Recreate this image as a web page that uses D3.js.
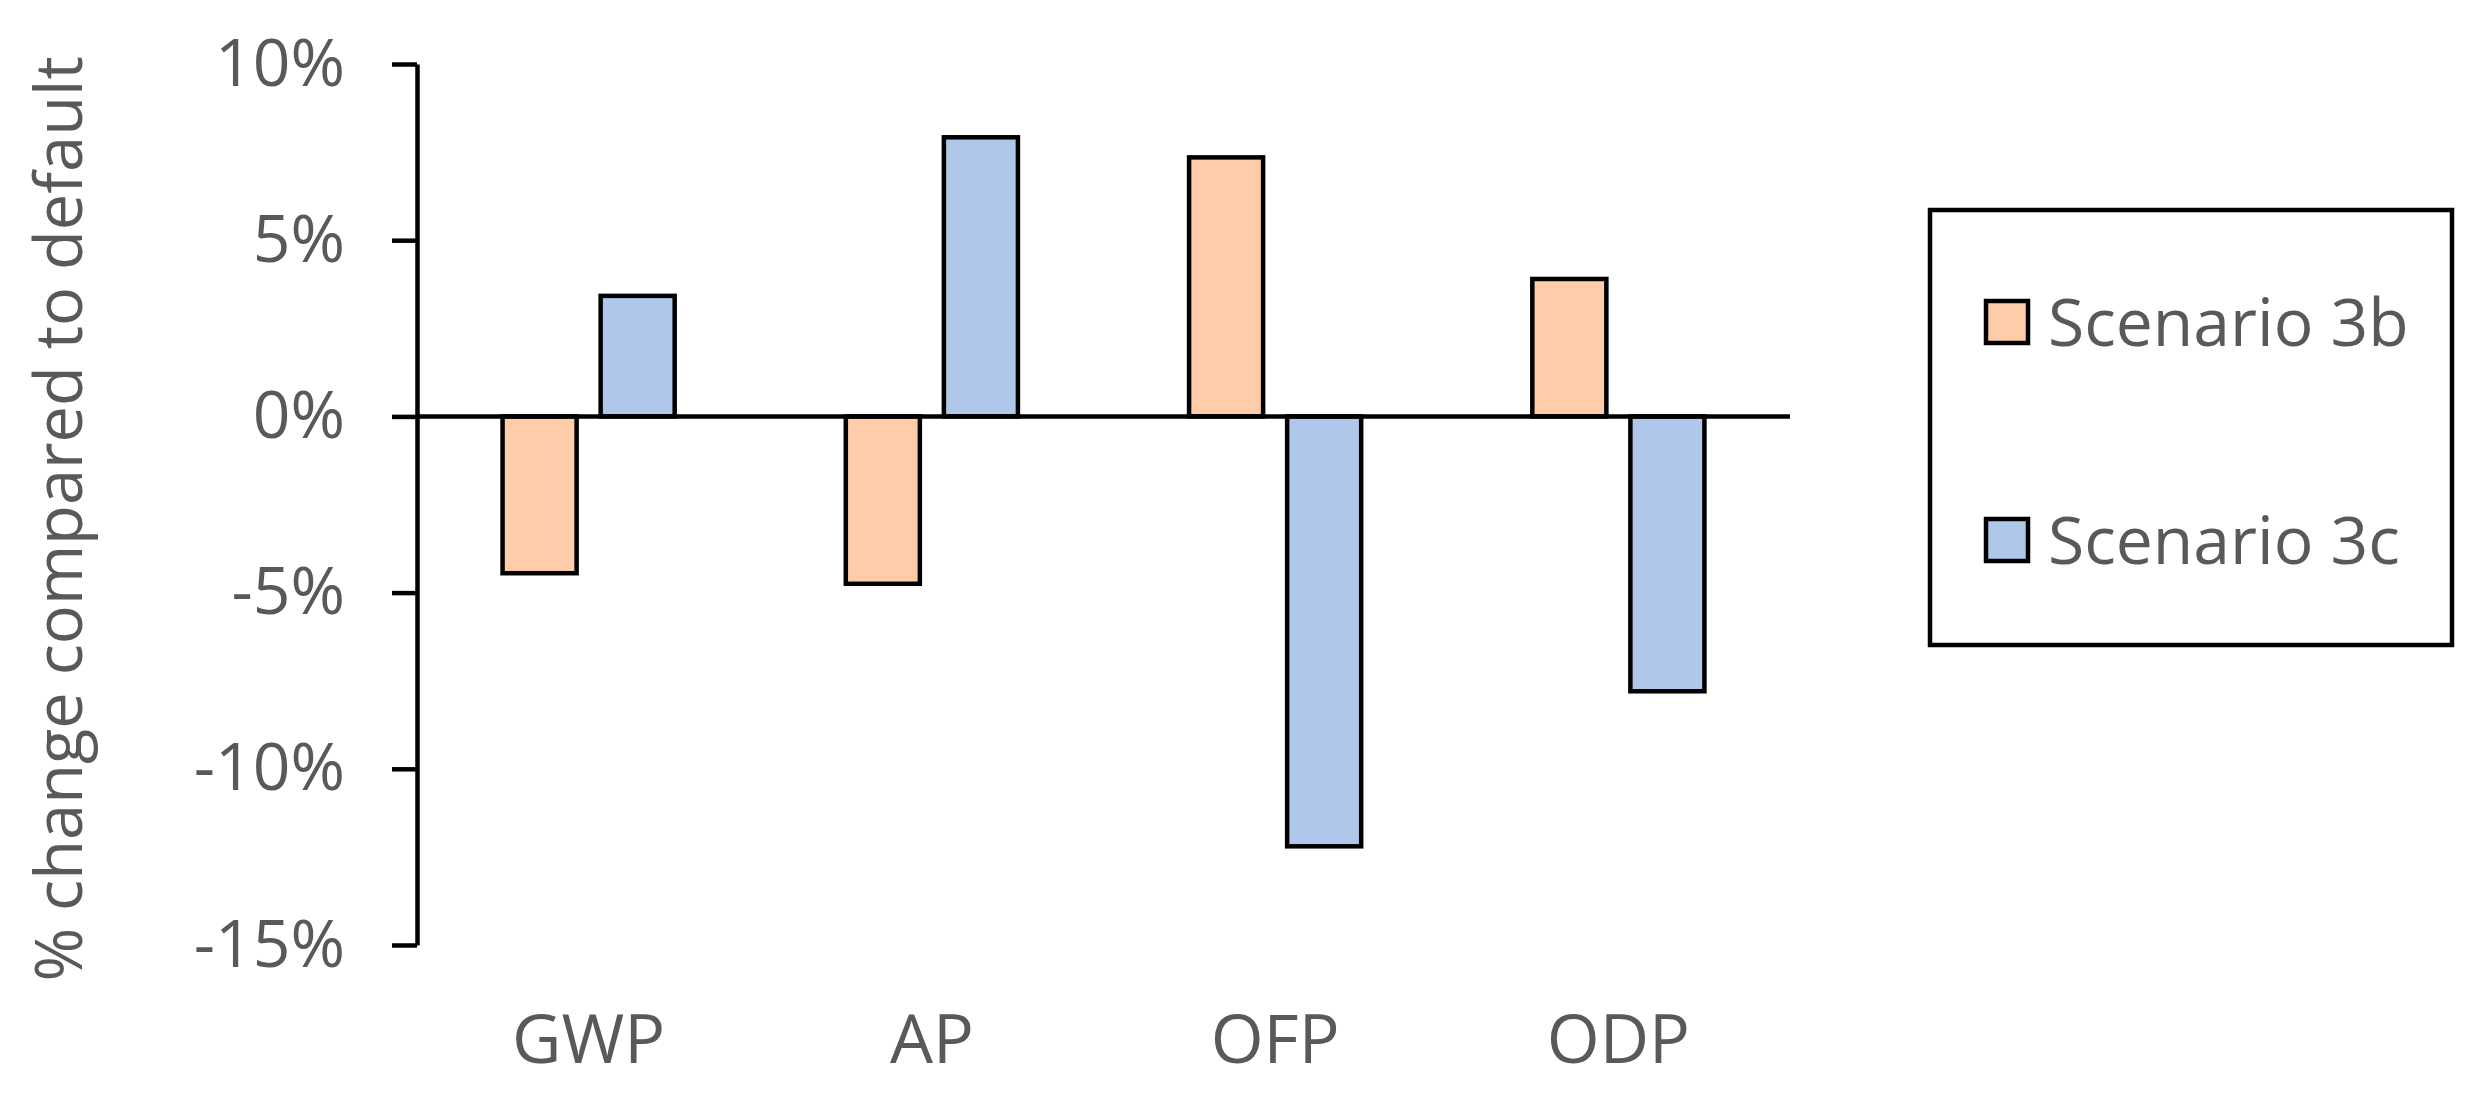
<!DOCTYPE html>
<html>
<head>
<meta charset="utf-8">
<script src="https://cdn.jsdelivr.net/npm/d3@7"></script>
<style>
  body { margin: 0; background: #fff; }
  text { font-family: "Open Sans", "Noto Sans", sans-serif; fill: #595959; }
</style>
</head>
<body>
<svg id="chart"></svg>
<script>
var w = 2480, h = 1097;

// data (percent change vs default)
var categories = ["GWP", "AP", "OFP", "ODP"];
var series = ["Scenario 3b", "Scenario 3c"];
var scenario3b = [-4.45, -4.75, 7.35, 3.9];
var scenario3c = [3.42, 7.92, -12.2, -7.8];
var yTicks = [-15, -10, -5, 0, 5, 10];
var colors = ["#FFCCAA", "#AFC8E9"];

var values = [scenario3b, scenario3c];

var svg = d3.select("#chart")
    .attr("width", w)
    .attr("height", h);

svg.append("rect").attr("width", w).attr("height", h).attr("fill", "#fff");

var x0 = d3.scaleBand()
    .domain(categories)
    .range([417, 1790]);

var x1 = d3.scaleBand()
    .domain(series)
    .range([0, x0.bandwidth()])
    .paddingInner(0.245)
    .paddingOuter(0.8725);

var y = d3.scaleLinear()
    .domain([-15, 10])
    .range([945, 64]);

// y axis
var yAxis = svg.append("g")
    .attr("transform", "translate(" + x0.range()[0] + ",0)")
    .call(d3.axisLeft(y)
        .tickValues(yTicks)
        .tickSize(25)
        .tickSizeOuter(0)
        .tickPadding(47)
        .tickFormat(d => d + "%"));
yAxis.select(".domain").attr("stroke", "#000").attr("stroke-width", 4.5);
yAxis.selectAll(".tick line").attr("stroke", "#000").attr("stroke-width", 4.5);
yAxis.selectAll(".tick text")
    .attr("fill", "#595959")
    .style("font-size", "66px")
    .style("font-family", "'Open Sans', sans-serif");

// bars
var groups = svg.selectAll(".cat")
    .data(categories)
    .enter().append("g")
    .attr("class", "cat")
    .attr("transform", d => "translate(" + x0(d) + ",0)");

groups.selectAll("rect")
    .data((d, i) => series.map((s, j) => ({ s: s, j: j, v: values[j][i] })))
    .enter().append("rect")
    .attr("x", d => x1(d.s))
    .attr("width", x1.bandwidth())
    .attr("y", d => y(Math.max(0, d.v)))
    .attr("height", d => Math.abs(y(d.v) - y(0)))
    .attr("fill", d => colors[d.j])
    .attr("stroke", "#000")
    .attr("stroke-width", 4.5);

// zero line
svg.append("line")
    .attr("x1", x0.range()[0])
    .attr("x2", x0.range()[1])
    .attr("y1", y(0))
    .attr("y2", y(0))
    .attr("stroke", "#000")
    .attr("stroke-width", 4.5);

// category labels
var xAxis = svg.append("g")
    .attr("transform", "translate(0,1015)")
    .call(d3.axisBottom(x0).tickSize(0).tickPadding(0));
xAxis.select(".domain").remove();
xAxis.selectAll(".tick text")
    .attr("fill", "#595959")
    .style("font-size", "68px")
    .style("font-family", "'Open Sans', sans-serif");

// y title
svg.append("text")
    .attr("transform", "translate(82,519) rotate(-90)")
    .attr("text-anchor", "middle")
    .style("font-size", "65px")
    .text("% change compared to default");

// legend
var legend = svg.append("g");
legend.append("rect")
    .attr("x", 1930)
    .attr("y", 210)
    .attr("width", 522)
    .attr("height", 435)
    .attr("fill", "#fff")
    .attr("stroke", "#000")
    .attr("stroke-width", 4.5);

var items = legend.selectAll(".item")
    .data(series)
    .enter().append("g")
    .attr("class", "item")
    .attr("transform", (d, i) => "translate(1986," + (322 + i * 218) + ")");

items.append("rect")
    .attr("x", 0)
    .attr("y", -21)
    .attr("width", 42)
    .attr("height", 42)
    .attr("fill", (d, i) => colors[i])
    .attr("stroke", "#000")
    .attr("stroke-width", 4.5);

items.append("text")
    .attr("x", 62)
    .attr("y", -2)
    .attr("dominant-baseline", "central")
    .style("font-size", "66px")
    .text(d => d);
</script>
</body>
</html>
